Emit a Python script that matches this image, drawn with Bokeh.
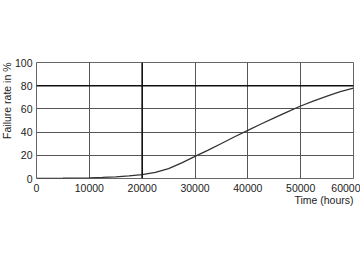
from bokeh.plotting import figure
from bokeh.models import Span, Title, FixedTicker, Range1d
from bokeh.embed import file_html
from bokeh.resources import INLINE

# Data
hours = [0, 2500, 5000, 7500, 10000, 12500, 15000, 17500, 20000, 22500, 25000, 27500, 30000,
         32500, 35000, 37500, 40000, 42500, 45000, 47500, 50000, 52500, 55000, 57500, 60000]
failure_pct = [0.0, 0.1, 0.2, 0.35, 0.6, 0.9, 1.4, 2.2, 3.3, 5.2, 8.5, 13.5, 19.0,
               24.5, 30.2, 36.0, 41.5, 47.0, 52.2, 57.5, 62.5, 67.0, 71.0, 74.8, 78.0]
x_ticks = [0, 10000, 20000, 30000, 40000, 50000, 60000]
y_ticks = [0, 20, 40, 60, 80, 100]
highlight_x = [20000]
highlight_y = [80]
x_label = "Time (hours)"
y_label = "Failure rate in %"

FONT = "Liberation Sans"

p = figure(width=360, height=262, output_backend="svg", toolbar_location=None,
           x_range=Range1d(0, 60000), y_range=Range1d(0, 100))
p.min_border_left = 30
p.min_border_right = 7
p.min_border_top = 62
p.min_border_bottom = 84
p.background_fill_color = "white"
p.border_fill_color = "white"
p.outline_line_color = "#666666"
p.outline_line_width = 1

for ax in (p.xaxis, p.yaxis):
    ax.axis_line_color = None
    ax.major_tick_line_color = None
    ax.minor_tick_line_color = None
    ax.major_tick_out = 0
    ax.major_tick_in = 0
    ax.minor_tick_out = 0
    ax.major_label_text_font = FONT
    ax.major_label_text_font_size = "10.5px"
    ax.major_label_text_color = "#222222"
p.xaxis.ticker = FixedTicker(ticks=x_ticks)
p.yaxis.ticker = FixedTicker(ticks=y_ticks)
p.xaxis.major_label_standoff = 5
p.yaxis.major_label_standoff = 4

p.xgrid.ticker = FixedTicker(ticks=x_ticks)
p.ygrid.ticker = FixedTicker(ticks=y_ticks)
for g in (p.xgrid, p.ygrid):
    g.grid_line_color = "#555555"
    g.grid_line_width = 1

for xv in highlight_x:
    p.add_layout(Span(location=xv, dimension="height", line_color="#111111", line_width=1.6))
for yv in highlight_y:
    p.add_layout(Span(location=yv, dimension="width", line_color="#111111", line_width=1.6))

p.line(hours, failure_pct, line_color="#333333", line_width=1.3)

p.add_layout(Title(text=x_label, align="right", text_font=FONT, text_font_size="10.5px",
                   text_font_style="normal", text_color="#222222", standoff=-6, offset=0),
             "below")
p.add_layout(Title(text=y_label, align="right", text_font=FONT, text_font_size="10.5px",
                   text_font_style="normal", text_color="#222222", standoff=-3, offset=0),
             "left")

open("out.html", "w").write(file_html(p, INLINE))
